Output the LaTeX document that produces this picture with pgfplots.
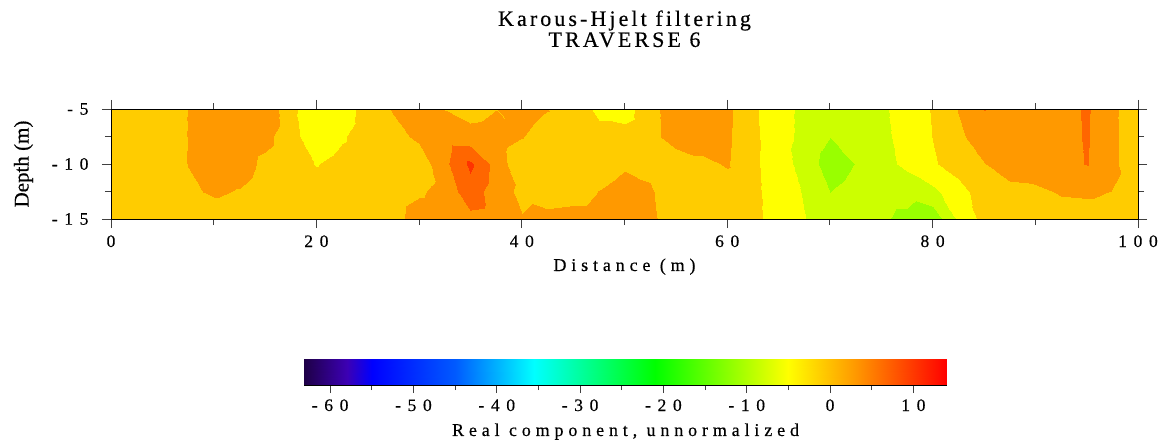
\documentclass[border=0pt]{standalone}
\usepackage{pgfplots}
\pgfplotsset{compat=1.18}
\usepackage{fontspec}
\setmainfont{Liberation Serif}[FakeBold=0.4]
\newfontfamily\titlefont[LetterSpace=14,FakeBold=0.4]{Liberation Serif}
\newfontfamily\tickfont[LetterSpace=38,FakeBold=0.4]{Liberation Serif}
\newfontfamily\labfont[LetterSpace=27,FakeBold=0.4]{Liberation Serif}

\pgfplotsset{
  colormap={kh}{rgb255=(153,255,0) rgb255=(204,255,0) rgb255=(255,255,0) rgb255=(255,204,0) rgb255=(255,153,0) rgb255=(255,102,0) rgb255=(255,51,0)},
  colormap={bar}{rgb255(0cm)=(30,0,70) rgb255(0.51cm)=(60,0,180) rgb255(0.81cm)=(0,0,255) rgb255(1.81cm)=(0,90,255) rgb255(2.76cm)=(0,255,255) rgb255(4.21cm)=(0,255,0) rgb255(5.81cm)=(255,255,0) rgb255(6.61cm)=(255,153,0) rgb255(7.71cm)=(255,0,0)},
}

\begin{document}
\begin{tikzpicture}
\useasboundingbox (0,0) rectangle (1169pt,440pt);
\begin{axis}[
  at={(111pt,221pt)}, anchor=south west,
  scale only axis, width=1027pt, height=110pt,
  xmin=0, xmax=100, ymin=-15, ymax=-5,
  colormap name=kh, colormap access=piecewise constant,
  point meta min=-15, point meta max=20,
  axis on top,
  tick align=outside,
  xtick={0,20,40,60,80,100}, xticklabels={0,20,40,60,80,100},
  minor xtick={10,30,50,70,90},
  ytick={-15,-10,-5}, yticklabels={-15,-10,-5},
  minor ytick={-12.5,-7.5},
  major tick length=9pt, minor tick length=6pt,
  tick style={line width=1pt, black!75},
  axis line style={line width=1pt, black},
  ticklabel style={font=\tickfont\fontsize{17.5}{17.5}\selectfont},
  xticklabel style={anchor=base, yshift=-19pt},
  yticklabel style={anchor=east, xshift=-10pt},
  title={Karous-Hjelt filtering\\TRAVERSE 6},
  title style={font=\titlefont\fontsize{22}{21}\selectfont, align=center, at={(axis description cs:0.5,1.505)}, anchor=south, inner sep=0pt},
  xlabel={Distance (m)},
  xlabel style={font=\labfont\fontsize{18}{18}\selectfont, at={(axis description cs:0.5,-0.4727)}, anchor=base},
  ylabel={Depth (m)},
  ylabel style={font=\fontsize{21}{21}\selectfont, at={(axis description cs:-0.0852,0.5)}, anchor=center},
]
\addplot[surf, shader=interp, point meta=explicit] table[meta=v] {
x y v
0 -15 2.5
2.5 -15 2.5
5 -15 2.5
7.5 -15 2.5
10 -15 2.5
12.5 -15 2.5
15 -15 2.5
17.5 -15 2.5
20 -15 2.5
22.5 -15 2.5
25 -15 2.5
27.5 -15 3
30 -15 7.5
32.5 -15 8
35 -15 8.6
37.5 -15 8
40 -15 5.3
42.5 -15 6.5
45 -15 7
47.5 -15 7
50 -15 7
52.5 -15 6
55 -15 2.4
57.5 -15 2.5
60 -15 2.5
62.5 -15 1.05
65 -15 -1.86
67.5 -15 -4.77
70 -15 -7.65
72.5 -15 -7.5
75 -15 -9.44
77.5 -15 -11
80 -15 -13.2
82.5 -15 -4.29
85 -15 1.67
87.5 -15 2.5
90 -15 2.5
92.5 -15 2.5
95 -15 2.5
97.5 -15 2.5
100 -15 2.5

0 -12.5 2.5
2.5 -12.5 2.5
5 -12.5 2.5
7.5 -12.5 4.2
10 -12.5 5.6
12.5 -12.5 4.7
15 -12.5 2.5
17.5 -12.5 2.5
20 -12.5 2.5
22.5 -12.5 2.5
25 -12.5 2.5
27.5 -12.5 2.5
30 -12.5 4.3
32.5 -12.5 6.9
35 -12.5 12.9
37.5 -12.5 7.3
40 -12.5 3.9
42.5 -12.5 2.5
45 -12.5 3
47.5 -12.5 5.1
50 -12.5 6.5
52.5 -12.5 5.5
55 -12.5 2.4
57.5 -12.5 2.5
60 -12.5 2.5
62.5 -12.5 1.0
65 -12.5 -2.2
67.5 -12.5 -5.4
70 -12.5 -10
72.5 -12.5 -8
75 -12.5 -8.5
77.5 -12.5 -8.5
80 -12.5 -6.2
82.5 -12.5 -1.9
85 -12.5 2.4
87.5 -12.5 3.5
90 -12.5 3.7
92.5 -12.5 5.5
95 -12.5 5.8
97.5 -12.5 4.85
100 -12.5 2.5

0 -10 2.5
2.5 -10 2.5
5 -10 2.5
7.5 -10 5.1
10 -10 7.5
12.5 -10 7.5
15 -10 3.8
17.5 -10 1.5
20 -10 -0.2
22.5 -10 1.5
25 -10 2.5
27.5 -10 2.5
30 -10 1.9
32.5 -10 8.95
35 -10 16
37.5 -10 8
40 -10 1
42.5 -10 2.5
45 -10 2.5
47.5 -10 3
50 -10 4.5
52.5 -10 4
55 -10 1.2
57.5 -10 3.6
60 -10 5.5
62.5 -10 0.9
65 -10 -2.85
67.5 -10 -6.7
70 -10 -12.6
72.5 -10 -9.8
75 -10 -6.8
77.5 -10 -3.8
80 -10 -0.5
82.5 -10 2.1
85 -10 4.8
87.5 -10 7.5
90 -10 8.5
92.5 -10 8.5
95 -10 10.2
97.5 -10 6.3
100 -10 0.9

0 -7.5 2.5
2.5 -7.5 2.5
5 -7.5 2.5
7.5 -7.5 5.1
10 -7.5 7.5
12.5 -7.5 8
15 -7.5 6.55
17.5 -7.5 1.7
20 -7.5 -3.0
22.5 -7.5 -0.5
25 -7.5 2.5
27.5 -7.5 3.2
30 -7.5 6
32.5 -7.5 7.5
35 -7.5 7
37.5 -7.5 7.5
40 -7.5 5.2
42.5 -7.5 2.5
45 -7.5 2.5
47.5 -7.5 1.5
50 -7.5 1.5
52.5 -7.5 3
55 -7.5 8
57.5 -7.5 8
60 -7.5 5.8
62.5 -7.5 1.2
65 -7.5 -3.5
67.5 -7.5 -6
70 -7.5 -9.95
72.5 -7.5 -7.5
75 -7.5 -6.3
77.5 -7.5 -3.1
80 -7.5 0.13
82.5 -7.5 3.9
85 -7.5 7.8
87.5 -7.5 8
90 -7.5 8.5
92.5 -7.5 8.5
95 -7.5 10.4
97.5 -7.5 6.3
100 -7.5 0.9

0 -5 2.5
2.5 -5 2.5
5 -5 2.5
7.5 -5 5.1
10 -5 7.5
12.5 -5 8
15 -5 9.3
17.5 -5 1
20 -5 -3.2
22.5 -5 -2.5
25 -5 2.3
27.5 -5 5.4
30 -5 7.5
32.5 -5 4.9
35 -5 3
37.5 -5 4.9
40 -5 7.5
42.5 -5 5.2
45 -5 2.5
47.5 -5 -1
50 -5 -1.7
52.5 -5 3
55 -5 8.6
57.5 -5 8
60 -5 6
62.5 -5 0.9
65 -5 -3.5
67.5 -5 -6
70 -5 -8
72.5 -5 -7.5
75 -5 -5.9
77.5 -5 -2.75
80 -5 0.4
82.5 -5 5.2
85 -5 10.1
87.5 -5 8
90 -5 8.5
92.5 -5 8.5
95 -5 10.5
97.5 -5 6.3
100 -5 0.8
};
\end{axis}

\begin{axis}[
  at={(304.3pt,55pt)}, anchor=south west,
  scale only axis, width=642.4pt, height=25.7pt,
  xmin=-63.1, xmax=14, ymin=0, ymax=1,
  colormap name=bar, point meta min=-63.1, point meta max=14,
  axis on top,
  axis x line*=bottom, hide y axis,
  tick align=outside,
  xtick={-60,-50,-40,-30,-20,-10,0,10},
  xticklabels={-60,-50,-40,-30,-20,-10,0,10},
  minor xtick={-55,-45,-35,-25,-15,-5,5},
  major tick length=8pt, minor tick length=5pt,
  tick style={line width=1pt, black!75},
  axis line style={line width=1pt, black},
  ticklabel style={font=\tickfont\fontsize{17.5}{17.5}\selectfont},
  xticklabel style={anchor=base, yshift=-18pt},
  xlabel={Real component, unnormalized},
  xlabel style={font=\labfont\fontsize{18}{18}\selectfont, at={(axis description cs:0.5,-1.984)}, anchor=base},
]
\addplot[surf, shader=interp, point meta=x] table {
x y
-63.1 0
-58 0
-55 0
-45 0
-35.5 0
-21 0
-5 0
3 0
14 0

-63.1 1
-58 1
-55 1
-45 1
-35.5 1
-21 1
-5 1
3 1
14 1
};
\end{axis}
\end{tikzpicture}
\end{document}
